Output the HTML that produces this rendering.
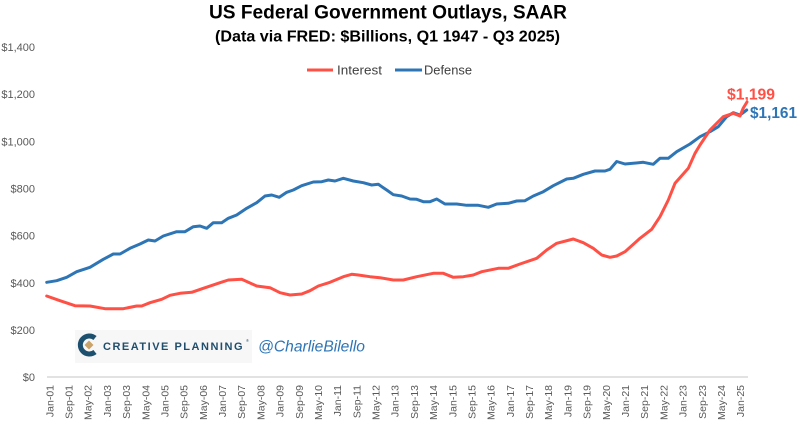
<!DOCTYPE html>
<html>
<head>
<meta charset="utf-8">
<style>
  html, body { margin:0; padding:0; background:#ffffff; }
  body { width:800px; height:424px; overflow:hidden; }
  svg { display:block; }
  text { font-family: "Liberation Sans", "DejaVu Sans", sans-serif; }
</style>
</head>
<body>
<svg width="800" height="424" viewBox="0 0 800 424" xmlns="http://www.w3.org/2000/svg">
  <rect x="0" y="0" width="800" height="424" fill="#ffffff"/>

  <!-- Title -->
  <text x="209" y="18.5" font-size="19" font-weight="bold" fill="#000" textLength="358" lengthAdjust="spacingAndGlyphs">US Federal Government Outlays, SAAR</text>
  <text x="215" y="41.5" font-size="16" font-weight="bold" fill="#000" textLength="345" lengthAdjust="spacingAndGlyphs">(Data via FRED: $Billions, Q1 1947 - Q3 2025)</text>

  <!-- Legend -->
  <line x1="307" y1="70" x2="333" y2="70" stroke="#ff5046" stroke-width="3"/>
  <text x="337" y="74.5" font-size="13" fill="#404040" textLength="45" lengthAdjust="spacingAndGlyphs">Interest</text>
  <line x1="395" y1="70" x2="422" y2="70" stroke="#2e75b6" stroke-width="3"/>
  <text x="424" y="74.5" font-size="13" fill="#404040" textLength="48" lengthAdjust="spacingAndGlyphs">Defense</text>

  <!-- Y axis labels -->
  <g font-size="11" fill="#595959" text-anchor="end">
    <text x="35" y="51">$1,400</text>
    <text x="35" y="98">$1,200</text>
    <text x="35" y="145.5">$1,000</text>
    <text x="35" y="192.5">$800</text>
    <text x="35" y="239.5">$600</text>
    <text x="35" y="287">$400</text>
    <text x="35" y="334">$200</text>
    <text x="35" y="381">$0</text>
  </g>

  <!-- Logo box -->
  <rect x="75" y="330" width="177" height="33" fill="#f7f7f7"/>
  <!-- icon -->
  <path d="M95,338 A9,9 0 1 0 95,352" fill="none" stroke="#1d4f6e" stroke-width="5"/>
  <path d="M89,340.5 L93.5,345 L89,349.5 L84.5,345 Z" fill="#c9a36a"/>
  <text x="103" y="350" font-size="11" font-weight="bold" fill="#1f4d6b" textLength="141" lengthAdjust="spacing" letter-spacing="1.5">CREATIVE PLANNING</text>
  <text x="246" y="342" font-size="4" fill="#1f4d6b">®</text>
  <text x="258" y="351.5" font-size="15.5" font-style="italic" fill="#2e75b6" textLength="107" lengthAdjust="spacingAndGlyphs">@CharlieBilello</text>

  <!-- X axis line -->
  <line x1="47" y1="377" x2="748" y2="377" stroke="#d9d9d9" stroke-width="1.5"/>

  <!-- X axis labels -->
  <g font-size="10.5" fill="#595959" text-anchor="end" id="xl">
    <text transform="translate(53.3,385) rotate(-90)">Jan-01</text>
    <text transform="translate(72.5,385) rotate(-90)">Sep-01</text>
    <text transform="translate(91.7,385) rotate(-90)">May-02</text>
    <text transform="translate(110.9,385) rotate(-90)">Jan-03</text>
    <text transform="translate(130.1,385) rotate(-90)">Sep-03</text>
    <text transform="translate(149.3,385) rotate(-90)">May-04</text>
    <text transform="translate(168.4,385) rotate(-90)">Jan-05</text>
    <text transform="translate(187.6,385) rotate(-90)">Sep-05</text>
    <text transform="translate(206.8,385) rotate(-90)">May-06</text>
    <text transform="translate(226.0,385) rotate(-90)">Jan-07</text>
    <text transform="translate(245.2,385) rotate(-90)">Sep-07</text>
    <text transform="translate(264.4,385) rotate(-90)">May-08</text>
    <text transform="translate(283.6,385) rotate(-90)">Jan-09</text>
    <text transform="translate(302.8,385) rotate(-90)">Sep-09</text>
    <text transform="translate(322.0,385) rotate(-90)">May-10</text>
    <text transform="translate(341.2,385) rotate(-90)">Jan-11</text>
    <text transform="translate(360.3,385) rotate(-90)">Sep-11</text>
    <text transform="translate(379.5,385) rotate(-90)">May-12</text>
    <text transform="translate(398.7,385) rotate(-90)">Jan-13</text>
    <text transform="translate(417.9,385) rotate(-90)">Sep-13</text>
    <text transform="translate(437.1,385) rotate(-90)">May-14</text>
    <text transform="translate(456.3,385) rotate(-90)">Jan-15</text>
    <text transform="translate(475.5,385) rotate(-90)">Sep-15</text>
    <text transform="translate(494.7,385) rotate(-90)">May-16</text>
    <text transform="translate(513.9,385) rotate(-90)">Jan-17</text>
    <text transform="translate(533.1,385) rotate(-90)">Sep-17</text>
    <text transform="translate(552.2,385) rotate(-90)">May-18</text>
    <text transform="translate(571.4,385) rotate(-90)">Jan-19</text>
    <text transform="translate(590.6,385) rotate(-90)">Sep-19</text>
    <text transform="translate(609.8,385) rotate(-90)">May-20</text>
    <text transform="translate(629.0,385) rotate(-90)">Jan-21</text>
    <text transform="translate(648.2,385) rotate(-90)">Sep-21</text>
    <text transform="translate(667.4,385) rotate(-90)">May-22</text>
    <text transform="translate(686.6,385) rotate(-90)">Jan-23</text>
    <text transform="translate(705.8,385) rotate(-90)">Sep-23</text>
    <text transform="translate(725.0,385) rotate(-90)">May-24</text>
    <text transform="translate(744.1,385) rotate(-90)">Jan-25</text>
  </g>

  <!-- Defense series -->
  <polyline fill="none" stroke="#2e75b6" stroke-width="3" stroke-linejoin="round" stroke-linecap="round" points="
46.7,282.3 56.7,280.7 66.7,277.3 76.7,271.7 90,267.3 103.3,259.3 113.3,254 120,254 130,248.3 140,244
148.3,240 155,241 163.3,236 176.7,231.7 185,231.7 193.3,226.7 200,226 206.7,228.3 213.3,222.7 221.7,222.7
228.3,218.3 236.7,215 246.7,208.3 256.7,202.7 265,196 271.7,195 279.3,197.3 286.7,192.3 293.3,190 301.7,185.7
313.3,182 321.7,181.7 328.3,180 335,181 343.3,178.3 353.3,181 363.3,182.7 371.7,185 378.3,184.3 386.7,190
393.3,194.7 401.7,196 410,199 416.7,199.3 423.3,201.7 430,201.7 436.7,199 445,204 456.7,204 466.7,205.3
478.3,205.3 488.3,207.3 496.7,204 508.3,203.3 516.7,201 525,200.7 533.3,196 543.3,191.7 553.3,185.7 566.7,179
573.3,178.3 583.3,174.3 595,171 605,171 610,169.3 616.7,161.5 625,164 643.3,162.3 653.3,164.3 660,158.3
668.3,158.3 676.7,151.7 690,144 700,136.7 710,131.7 718.3,126.7 726.7,116.7 733.3,112.7 740,115 746.7,110"/>

  <!-- Interest series -->
  <polyline fill="none" stroke="#ff5046" stroke-width="3" stroke-linejoin="round" stroke-linecap="round" points="
46.7,296 60,300.7 75,305.7 90,306 105,308.7 123.3,308.7 136.7,306 141.7,306 150,302.7 161.7,299.3
170,295.3 180,293.3 191.7,292.3 203.3,288.3 220,282.7 228.3,280 241.7,279.3 256.7,286 270,287.7 280,292.7
290,295 301.7,294 310,290.7 318.3,286 330,282.3 343.3,276.7 351.7,274.3 358.3,275 370,276.7 380,277.7
393.3,280 403.3,280 416.7,276.7 433.3,273.3 443.3,273.3 453.3,277.3 463.3,276.7 473.3,275 481.7,271.7 498.3,268.3
508.3,268.3 520,264 536.7,258.3 546.7,250 556.7,243.3 573.3,239 583.3,242.7 593.3,248.3 601.7,255 610,257.3
616.7,256 625,251.7 640,238.3 651.7,229.3 660,216.7 668.3,200 675,183.3 688.3,168.3 695,153.3 700,145
710,130 723.3,116.7 733.3,113.3 740,116 743.3,108 747,102"/>

  <!-- End labels -->
  <text x="727" y="99.5" font-size="16" font-weight="bold" fill="#ff5046" textLength="48" lengthAdjust="spacingAndGlyphs">$1,199</text>
  <text x="750" y="118" font-size="16" font-weight="bold" fill="#2e75b6" textLength="47" lengthAdjust="spacingAndGlyphs">$1,161</text>
</svg>
</body>
</html>
